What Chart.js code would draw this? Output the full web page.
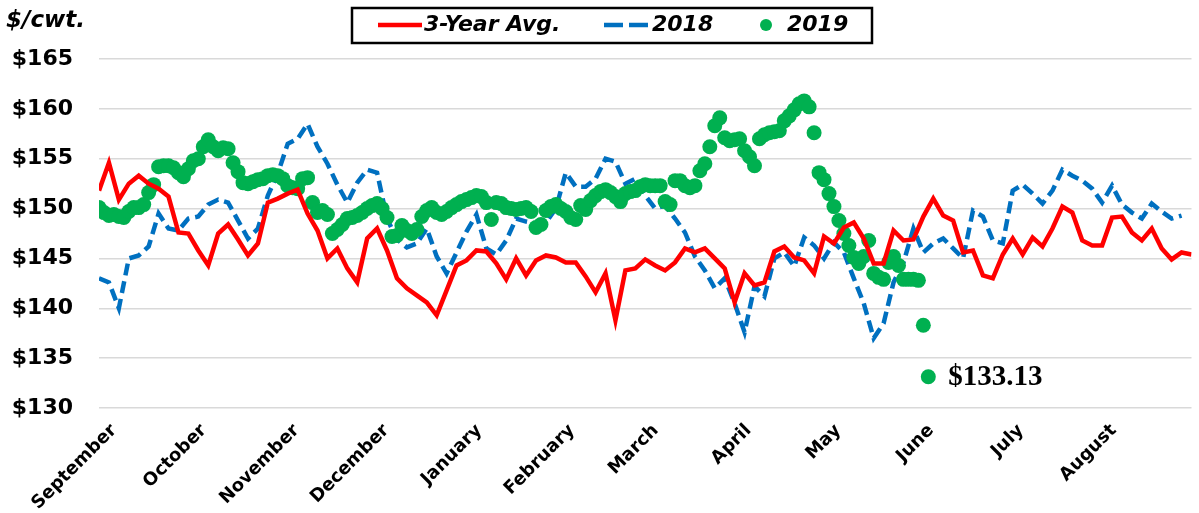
<!DOCTYPE html>
<html>
<head>
<meta charset="utf-8">
<script src="https://cdn.jsdelivr.net/npm/chart.js@4.4.1/dist/chart.umd.min.js"></script>
<style>
  html, body { margin: 0; padding: 0; background: #fff; }
  #wrap { width: 1199px; height: 513px; position: relative; }
</style>
</head>
<body>
<div id="wrap"><canvas id="priceChart"></canvas></div>
<script>
// marketing year Sept -> Aug, lines sampled every ~3.3 days, 2019 every ~1.7 days
const monthLabels = ["September", "October", "November", "December", "January", "February",
                     "March", "April", "May", "June", "July", "August"];
const monthStartDays = [0, 30, 61, 91, 122, 153, 181, 212, 242, 273, 303, 334];
const yearDays = 365;
const steps = 110;

const avg3Year = [
  151.8, 154.6, 150.9, 152.5, 153.3, 152.5, 152.0, 151.2, 147.6, 147.5,
  145.8, 144.3, 147.5, 148.4, 146.9, 145.3, 146.5, 150.6, 151.0, 151.5,
  151.9, 149.5, 147.8, 145.0, 146.0, 144.0, 142.6, 147.0, 148.0, 145.8,
  143.0, 142.0, 141.3, 140.6, 139.3, 141.8, 144.3, 144.8, 145.8, 145.7,
  144.5, 142.9, 145.0, 143.3, 144.8, 145.3, 145.1, 144.6, 144.6, 143.2,
  141.6, 143.5, 138.8, 143.8, 144.0, 144.9, 144.3, 143.8, 144.6, 146.0,
  145.6, 146.0, 145.0, 144.0, 140.6, 143.5, 142.3, 142.6, 145.7, 146.2,
  145.1, 144.8, 143.5, 147.2, 146.5, 148.1, 148.6, 147.0, 144.5, 144.5,
  147.8, 146.8, 146.9, 149.2, 151.0, 149.3, 148.8, 145.6, 145.8, 143.3,
  143.0, 145.4, 147.0, 145.4, 147.1, 146.2, 148.0, 150.2, 149.6, 146.8,
  146.3, 146.3, 149.1, 149.2, 147.6, 146.8, 148.0, 146.0, 144.9, 145.6,
  145.4
];

const prices2018 = [
  143.0, 142.6, 140.0, 145.0, 145.3, 146.2, 149.5, 148.0, 147.8, 149.0,
  149.2, 150.4, 150.9, 150.6, 148.8, 147.0, 148.0, 151.3, 153.5, 156.5,
  157.0, 158.5, 156.2, 154.5, 152.4, 150.6, 152.6, 153.9, 153.6, 149.0,
  146.9, 146.1, 146.5, 148.0, 145.2, 143.5, 145.6, 147.7, 149.4, 146.0,
  145.4, 146.8, 149.0, 148.7, 148.5, 148.6, 150.0, 153.6, 152.2, 152.2,
  153.0, 155.0, 154.7, 152.5, 153.0, 151.3, 150.0, 150.3, 149.0, 147.6,
  145.2, 143.8, 142.0, 143.0, 140.5, 137.6, 142.2, 141.2, 145.0, 145.6,
  144.2, 147.1, 146.3, 145.0, 146.6, 145.6, 143.0, 140.5, 137.0, 138.5,
  142.6, 144.6, 148.0, 145.6, 146.5, 147.0, 146.0, 145.0, 149.8, 149.2,
  146.8, 146.5, 151.8, 152.4, 151.5, 150.5, 151.8, 153.9, 153.3, 152.8,
  152.0, 150.6, 152.3, 150.4, 149.6, 149.0, 150.5, 149.7, 149.0, 149.3
];

const prices2019 = [
  150.1, 149.6, 149.3, 149.4, 149.2, 149.1, 149.7, 150.1, 150.1, 150.4,
  151.6, 152.4, 154.2, 154.3, 154.3, 154.1, 153.6, 153.2, 154.0, 154.8,
  155.0, 156.2, 156.9, 156.2, 155.8, 156.1, 156.0, 154.6, 153.7, 152.6,
  152.5, 152.7, 152.9, 153.0, 153.3, 153.4, 153.3, 153.0, 152.3, 152.1,
  152.0, 153.0, 153.1, 150.6, 149.6, 149.8, 149.4, 147.5, 147.9, 148.4,
  149.0, 149.1, 149.3, 149.6, 150.0, 150.3, 150.5, 150.0, 149.1, 147.2,
  147.3, 148.3, 147.8, 147.5, 147.9, 149.2, 149.8, 150.1, 149.6, 149.4,
  149.7, 150.1, 150.4, 150.7, 150.9, 151.1, 151.3, 151.2, 150.6, 148.9,
  150.6, 150.5, 150.1, 150.0, 149.9, 150.0, 150.1, 149.7, 148.1, 148.4,
  149.8, 150.2, 150.4, 150.0, 149.7, 149.1, 148.9, 150.3, 149.9, 150.8,
  151.3, 151.7, 151.9, 151.6, 151.2, 150.7, 151.5, 151.7, 151.8, 152.2,
  152.4, 152.3, 152.3, 152.3, 150.7, 150.4, 152.8, 152.8, 152.3, 152.1,
  152.3, 153.8, 154.5, 156.2, 158.3, 159.1, 157.1, 156.8, 156.9, 157.0,
  155.8, 155.2, 154.3, 157.0, 157.4, 157.6, 157.7, 157.8, 158.8, 159.3,
  159.9, 160.5, 160.8, 160.2, 157.6, 153.6, 152.9, 151.5, 150.2, 148.8,
  147.5, 146.3, 145.1, 144.5, 145.2, 146.8, 143.5, 143.1, 142.9, 144.6,
  145.2, 144.3, 142.9, 142.9, 142.9, 142.8, 138.3, 133.13
];

const labelShiftDays = 5;
const monthTickPos = monthStartDays.map(d => (d + labelShiftDays) * steps / yearDays);

const toPoints = (arr, perStep) => arr.map((v, i) => ({ x: i / perStep, y: v }));

const tickFont = "'DejaVu Sans', sans-serif";

const decorPlugin = {
  id: 'decor',
  afterDraw(chart) {
    const ctx = chart.ctx;
    const ds = chart.data.datasets;
    ctx.save();

    // unit label
    ctx.fillStyle = '#000';
    ctx.font = 'italic bold 23px ' + tickFont;
    ctx.textAlign = 'left';
    ctx.textBaseline = 'middle';
    ctx.fillText('$/cwt.', 6, 21);

    // legend box
    ctx.lineWidth = 2.5;
    ctx.strokeStyle = '#000';
    ctx.strokeRect(352, 8, 520, 35);
    const ly = 25;
    ctx.font = 'italic bold 22px ' + tickFont;

    ctx.strokeStyle = ds[0].borderColor;
    ctx.lineWidth = 4.5;
    ctx.beginPath(); ctx.moveTo(378, ly); ctx.lineTo(422, ly); ctx.stroke();
    ctx.fillText(ds[0].label, 424, ly);

    ctx.strokeStyle = ds[2].borderColor;
    ctx.setLineDash([19, 6]);
    ctx.beginPath(); ctx.moveTo(604, ly); ctx.lineTo(650, ly); ctx.stroke();
    ctx.setLineDash([]);
    ctx.fillText(ds[2].label, 652, ly);

    ctx.fillStyle = ds[1].pointBackgroundColor;
    ctx.beginPath(); ctx.arc(766, ly, 6, 0, Math.PI * 2); ctx.fill();
    ctx.fillStyle = '#000';
    ctx.fillText(ds[1].label, 787, ly);

    // last 2019 price callout
    const meta = chart.getDatasetMeta(1);
    const last = meta.data[meta.data.length - 1];
    const lastVal = prices2019[prices2019.length - 1];
    ctx.font = "bold 29px 'Liberation Serif', serif";
    ctx.fillText('$' + lastVal.toFixed(2), last.x + 20, last.y + 1);
    ctx.restore();
  }
};

new Chart(document.getElementById('priceChart'), {
  type: 'line',
  data: {
    datasets: [
      {
        label: '3-Year Avg.',
        data: toPoints(avg3Year, 1),
        borderColor: '#FF0000',
        borderWidth: 4.5,
        pointRadius: 0,
        tension: 0,
        order: 0
      },
      {
        label: '2019',
        data: toPoints(prices2019, 2),
        showLine: false,
        pointRadius: 7.5,
        pointBorderWidth: 0,
        pointBackgroundColor: '#00B050',
        borderColor: '#00B050',
        order: 1
      },
      {
        label: '2018',
        data: toPoints(prices2018, 1),
        borderColor: '#0070C0',
        borderWidth: 4.5,
        borderDash: [12, 6],
        pointRadius: 0,
        tension: 0,
        order: 2
      }
    ]
  },
  options: {
    responsive: true,
    maintainAspectRatio: false,
    animation: false,
    layout: { padding: { top: 59, left: 12, right: 0, bottom: 0 } },
    plugins: {
      legend: { display: false },
      tooltip: { enabled: false }
    },
    scales: {
      x: {
        type: 'linear',
        min: 0,
        max: steps,
        grid: { display: false },
        border: { display: false },
        afterBuildTicks: scale => {
          scale.ticks = monthTickPos.map(v => ({ value: v }));
        },
        afterFit: scale => {
          scale.height = 105;
          scale.paddingLeft = 0;
          scale.paddingRight = 0;
        },
        ticks: {
          autoSkip: false,
          minRotation: 45,
          maxRotation: 45,
          padding: 4,
          color: '#000',
          font: { family: tickFont, weight: 'bold', size: 18 },
          callback: (v, i) => monthLabels[i]
        }
      },
      y: {
        min: 130,
        max: 165,
        grid: { color: '#d9d9d9', lineWidth: 1.5, drawTicks: false },
        border: { display: false },
        afterFit: scale => { scale.width = 87; },
        ticks: {
          stepSize: 5,
          padding: 26,
          color: '#000',
          font: { family: tickFont, weight: 'bold', size: 22 },
          callback: v => '$' + v
        }
      }
    }
  },
  plugins: [decorPlugin]
});
</script>
</body>
</html>
